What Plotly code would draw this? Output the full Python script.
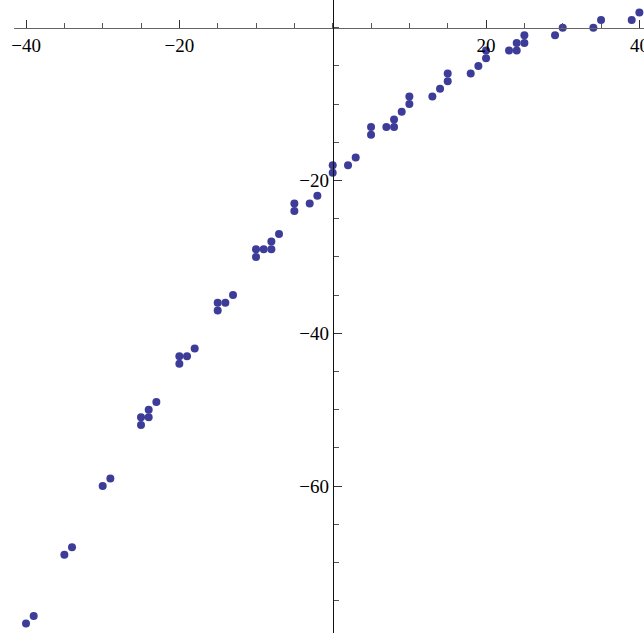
import plotly.graph_objects as go

x_vals = [-40, -39, -35, -34, -30, -29, -25, -25, -24, -24, -23, -20, -20, -19, -18,
          -15, -15, -14, -13, -10, -10, -9, -8, -8, -7, -5, -5, -3, -2, 0, 0, 2, 3,
          5, 5, 7, 8, 8, 9, 10, 10, 13, 14, 15, 15, 18, 19, 20, 20, 23, 24, 24, 25,
          25, 29, 30, 34, 35, 39, 40]
y_vals = [-78, -77, -69, -68, -60, -59, -52, -51, -51, -50, -49, -44, -43, -43, -42,
          -37, -36, -36, -35, -30, -29, -29, -29, -28, -27, -24, -23, -23, -22, -19, -18, -18, -17,
          -14, -13, -13, -13, -12, -11, -10, -9, -9, -8, -7, -6, -6, -5, -4, -3, -3, -3, -2, -2,
          -1, -1, 0, 0, 1, 1, 2]
x_ticks = [-40, -20, 20, 40]
y_ticks = [-20, -40, -60]

W, H = 644, 637
x0_px, y0_px = 332.7, 27.7
sx, sy = 7.667, 7.64

fig = go.Figure()
fig.add_trace(go.Scatter(x=x_vals, y=y_vals, mode="markers",
                         marker=dict(size=8, color="#3d3d99", line=dict(width=0)),
                         showlegend=False, hoverinfo="skip", cliponaxis=False))

xl, xr = (14 - x0_px) / sx, (W - x0_px) / sx
yt, yb = y0_px / sy, -(633 - y0_px) / sy

font = dict(family="Liberation Serif, Times New Roman, serif", size=19, color="black")

fig.update_layout(
    width=W, height=H, margin=dict(l=0, r=0, t=0, b=0, autoexpand=False),
    plot_bgcolor="white", paper_bgcolor="white",
    xaxis=dict(range=[xl, xr], domain=[14 / W, 1], anchor="free",
               position=1 - y0_px / H, showgrid=False, zeroline=False,
               automargin=False, ticklabeloverflow="allow",
               showline=True, linecolor="#666666", linewidth=1.2,
               tickvals=x_ticks, ticks="inside", ticklen=8, tickcolor="#333333",
               tickwidth=1, tickfont=font,
               minor=dict(dtick=5, tick0=0, ticks="inside", ticklen=5,
                          tickcolor="#555555", tickwidth=1)),
    yaxis=dict(range=[yb, yt], domain=[(H - 633) / H, 1], anchor="free",
               position=x0_px / W, showgrid=False, zeroline=False,
               automargin=False, ticklabeloverflow="allow",
               showline=True, linecolor="#111111", linewidth=1.2,
               tickvals=y_ticks, ticks="inside", ticklen=8, tickcolor="#333333",
               tickwidth=1, tickfont=font,
               minor=dict(dtick=5, tick0=0, ticks="inside", ticklen=5,
                          tickcolor="#555555", tickwidth=1)),
)

fig.write_html("out.html", config={"displayModeBar": False, "staticPlot": True},
               post_script="document.body.style.margin='0';document.body.style.overflow='hidden';")
